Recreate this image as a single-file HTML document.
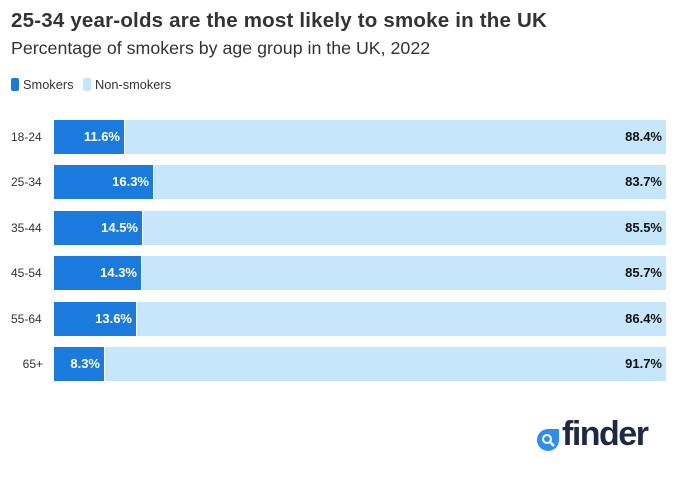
<!DOCTYPE html>
<html><head><style>
body{margin:0;width:680px;height:490px;background:#fff;font-family:"Liberation Sans",sans-serif;position:relative;overflow:hidden}
.t{position:absolute;left:11px;top:9px;font-size:20.5px;font-weight:bold;color:#333;letter-spacing:0.2px}
.s{position:absolute;left:11px;top:38px;font-size:17.8px;color:#333}
.lg{position:absolute;top:77px;font-size:12.8px;color:#333}
.sw{position:absolute;top:78px;width:8px;height:13px;border-radius:2px}
.lab{position:absolute;left:11px;font-size:12px;color:#333;width:34px}
.bar{position:absolute;left:54px;width:612px;height:34px;background:#c6e6fb}
.sm{position:absolute;left:0;top:0;height:34px;background:#1b7ade;border-right:1.5px solid #fff}
.v1{position:absolute;right:4px;top:9px;color:#fff;font-weight:bold;font-size:13px}
.v2{position:absolute;right:4px;top:9px;color:#111;font-weight:bold;font-size:13px}
</style></head><body>
<div class="t">25-34 year-olds are the most likely to smoke in the UK</div>
<div class="s">Percentage of smokers by age group in the UK, 2022</div>
<div class="sw" style="left:11px;background:#1b7ade"></div><div class="lg" style="left:23px">Smokers</div>
<div class="sw" style="left:83px;background:#c6e6fb"></div><div class="lg" style="left:95px">Non-smokers</div>

<div class="lab" style="top:130px">18-24</div>
<div class="bar" style="top:120px"><div class="sm" style="width:70px"><span class="v1">11.6%</span></div><span class="v2">88.4%</span></div>
<div class="lab" style="top:175px">25-34</div>
<div class="bar" style="top:165px"><div class="sm" style="width:99px"><span class="v1">16.3%</span></div><span class="v2">83.7%</span></div>
<div class="lab" style="top:221px">35-44</div>
<div class="bar" style="top:211px"><div class="sm" style="width:88px"><span class="v1">14.5%</span></div><span class="v2">85.5%</span></div>
<div class="lab" style="top:266px">45-54</div>
<div class="bar" style="top:256px"><div class="sm" style="width:87px"><span class="v1">14.3%</span></div><span class="v2">85.7%</span></div>
<div class="lab" style="top:312px">55-64</div>
<div class="bar" style="top:302px"><div class="sm" style="width:82px"><span class="v1">13.6%</span></div><span class="v2">86.4%</span></div>
<div class="lab" style="top:357px;text-align:right;width:32px">65+</div>
<div class="bar" style="top:347px"><div class="sm" style="width:50px"><span class="v1">8.3%</span></div><span class="v2">91.7%</span></div>

<svg style="position:absolute;left:536px;top:428px" width="24" height="24" viewBox="0 0 24 24">
<path d="M12 1A11 11 0 1 0 23 12V1Z" fill="#2d8ef0"/>
<circle cx="11" cy="11" r="4" fill="none" stroke="#fff" stroke-width="2"/>
<line x1="14" y1="14" x2="18" y2="18" stroke="#fff" stroke-width="2.5"/>
</svg>
<div style="position:absolute;left:562px;top:415px;font-size:34px;font-weight:bold;color:#1e2a45;letter-spacing:-1.5px">finder</div>
</body></html>
